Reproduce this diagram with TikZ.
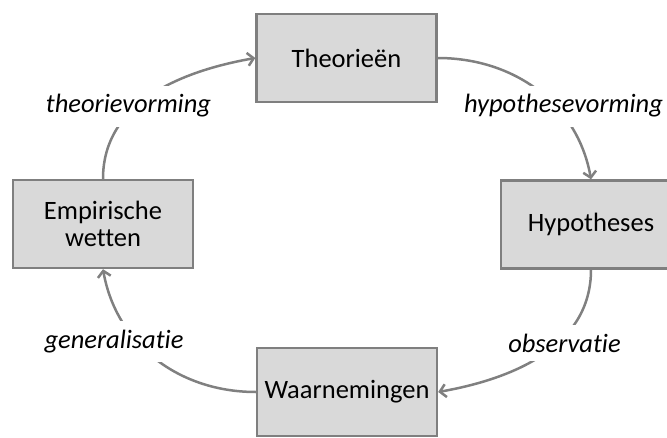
\documentclass[tikz,border=0pt]{standalone}
\usepackage{fontspec}
\setmainfont{Carlito}[Ligatures=CommonOff]
\usetikzlibrary{arrows.meta}
\definecolor{boxfill}{RGB}{217,217,217}
\definecolor{boxline}{RGB}{127,127,127}
\definecolor{arcline}{RGB}{128,128,128}

\begin{document}
\begin{tikzpicture}[x=1pt, y=1pt, every node/.style={font=\fontsize{26.5}{27}\selectfont},
	stage/.style={draw=boxline, line width=2.4pt, fill=boxfill, minimum width=180pt, minimum height=88pt, align=center, inner sep=0pt},
	cyclearc/.style={draw=arcline, line width=2.5pt, -{Straight Barb[length=6pt,width=13pt]}},
	verb/.style={fill=white, inner xsep=4pt, inner ysep=9pt, anchor=base, font=\fontsize{26.5}{27}\selectfont\itshape}]
	\clip (0,0) rectangle (667,437);
	\node[stage] (theo) at (346.5,379) {Theorieën};
	\node[stage] (hyp) at (591,212.5) {Hypotheses};
	\node[stage] (waar) at (347,45) {Waarnemingen};
	\node[stage] (emp) at (103,213) {Empirische\\wetten};
	\draw[cyclearc] (emp.north) to[out=90, in=190] (theo.west);
	\draw[cyclearc] (theo.east) to[out=0, in=100] (hyp.north);
	\draw[cyclearc] (hyp.south) to[out=-90, in=10] (waar.east);
	\draw[cyclearc] (waar.west) to[out=180, in=-80] (emp.south);
	\node[verb] (tv) at (128.5,324) {theorievorming};
	\node[verb] (hv) at (563.5,324) {hypothesevorming};
	\node[verb] (obs) at (564.5,85) {observatie};
	\node[verb] (gen) at (114,89) {generalisatie};
\end{tikzpicture}
\end{document}
